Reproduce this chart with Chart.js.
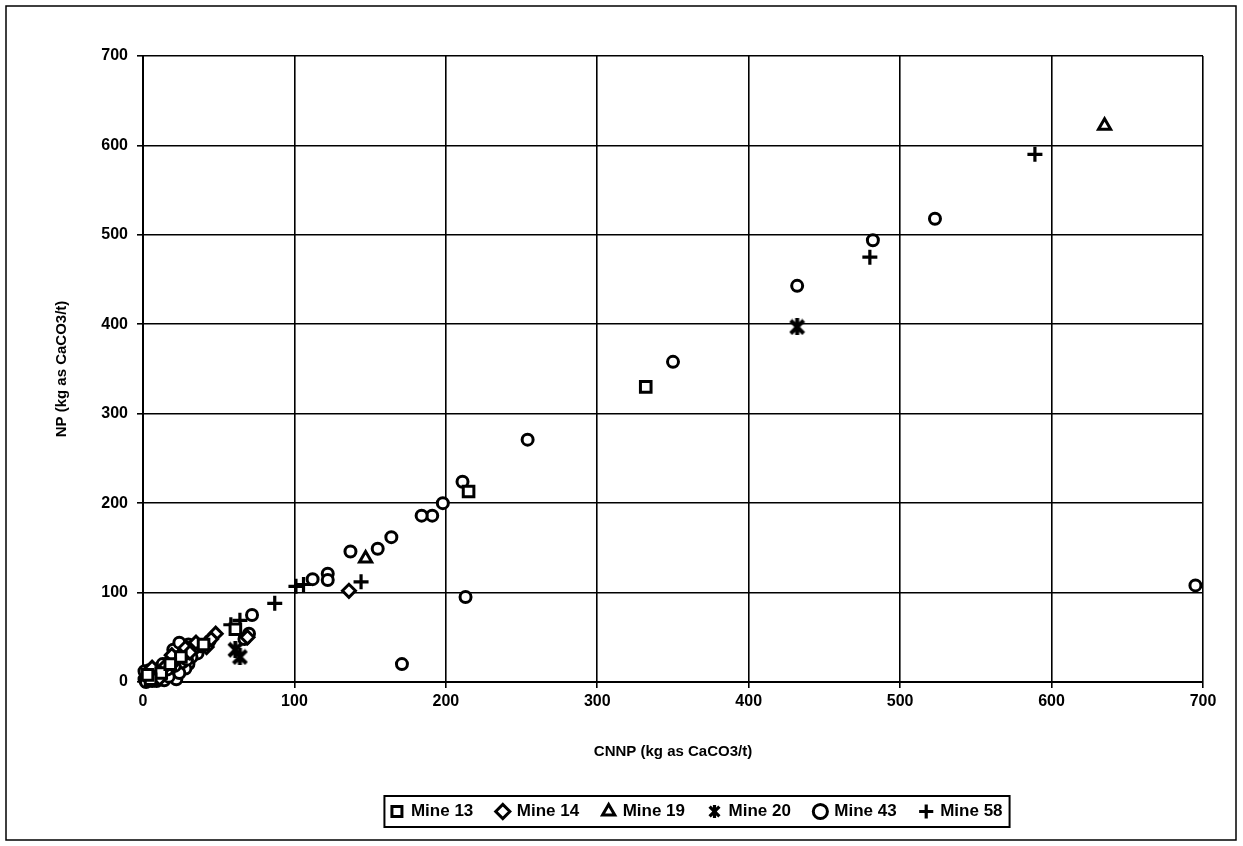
<!DOCTYPE html>
<html>
<head>
<meta charset="utf-8">
<script src="https://cdn.jsdelivr.net/npm/chart.js@4.4.1/dist/chart.umd.min.js"></script>
<style>
  html, body { margin: 0; padding: 0; background: #fff; }
  #wrap { width: 1243px; height: 846px; }
</style>
</head>
<body>
<div id="wrap"><canvas id="c" width="1243" height="846"></canvas></div>
<script>
// Axis ticks (kg as CaCO3/t)
const xTicks = [0, 100, 200, 300, 400, 500, 600, 700];
const yTicks = [0, 100, 200, 300, 400, 500, 600, 700];

// Series: [CNNP, NP] pairs per mine
const mine13 = [[332, 330], [215, 213], [61, 59], [40, 42], [25, 28], [12, 10], [5, 3], [18, 20], [3, 8]];
const mine14 = [[136, 102], [69, 50], [48, 54], [42, 39], [28, 38], [22, 25], [15, 18], [8, 12], [3, 5],
  [35, 44], [19, 30], [11, 4], [6, 16], [31, 33], [45, 48]];
const mine19 = [[635, 622], [147, 138], [28, 30], [10, 8], [17, 24]];
const mine20 = [[432, 397], [61, 36], [64, 28]];
const mine43 = [
  [695, 108], [523, 518], [482, 494], [432, 443], [350, 358], [254, 271],
  [211, 224], [213, 95], [171, 20], [198, 200], [191, 186], [184, 186],
  [164, 162], [155, 149], [137, 146], [122, 121], [122, 114], [112, 115],
  [72, 75], [70, 54], [67, 48], [30, 42], [27, 40], [25, 35], [22, 28],
  [20, 22], [18, 15], [22, 3], [15, 8], [10, 5], [8, 14], [5, 10], [3, 2],
  [2, 8], [6, 4], [12, 12], [33, 36], [36, 32], [30, 20], [28, 15],
  [1, 3], [4, 13], [9, 1], [14, 2], [17, 6], [24, 10], [26, 22], [32, 28],
  [38, 40], [44, 46], [13, 20], [7, 7], [20, 36], [24, 44], [1, 12],
  [2, 0], [6, 1], [11, 9], [16, 14], [21, 18], [26, 31], [29, 25], [34, 38]
];
const mine58 = [[589, 590], [480, 475], [144, 112], [101, 107], [106, 109], [87, 88], [58, 64], [64, 69], [38, 35], [16, 12]];

const toPts = arr => arr.map(([x, y]) => ({ x, y }));

// Asterisk marker: a heavy X crossed by a vertical stroke
function asteriskMarker(size, lw) {
  const cv = document.createElement('canvas');
  cv.width = size; cv.height = size;
  const g = cv.getContext('2d');
  g.strokeStyle = '#000';
  g.lineWidth = lw;
  g.lineCap = 'butt';
  const p = lw / 2, q = size - p;
  g.beginPath();
  g.moveTo(p, p); g.lineTo(q, q);
  g.moveTo(q, p); g.lineTo(p, q);
  g.moveTo(size / 2, 0); g.lineTo(size / 2, size);
  g.stroke();
  return cv;
}
const starImg = asteriskMarker(17, 4);
const starLegend = asteriskMarker(13, 3.2);

const base = { borderColor: '#000', backgroundColor: '#fff', clip: false };

// Frame around the whole figure and a box around the legend row
const framePlugin = {
  id: 'frame',
  beforeDraw(chart) {
    const ctx = chart.ctx;
    ctx.save();
    ctx.fillStyle = '#fff';
    ctx.fillRect(0, 0, chart.width, chart.height);
    ctx.restore();
  },
  afterUpdate(chart) {
    const lg = chart.legend;
    if (!lg) return;
    const desiredCenter = 697;
    const dx = desiredCenter - (lg.left + lg.right) / 2;
    lg.left += dx; lg.right += dx;
    (lg.legendHitBoxes || []).forEach(h => { h.left += dx; });
  },
  afterDraw(chart) {
    const ctx = chart.ctx;
    ctx.save();
    ctx.strokeStyle = '#000';
    ctx.lineWidth = 1.5;
    ctx.strokeRect(6, 6, 1230, 834);
    const hb = chart.legend && chart.legend.legendHitBoxes;
    if (hb && hb.length) {
      const l = Math.min(...hb.map(h => h.left)) - 7;
      const r = Math.max(...hb.map(h => h.left + h.width)) + 7;
      const t = Math.min(...hb.map(h => h.top)) - 7;
      const b = Math.max(...hb.map(h => h.top + h.height)) + 7;
      ctx.lineWidth = 2;
      ctx.strokeRect(l, t, r - l, b - t);
    }
    ctx.restore();
  }
};

Chart.defaults.font.family = '"Liberation Sans", Arial, sans-serif';
Chart.defaults.font.weight = 'bold';
Chart.defaults.color = '#000';

new Chart(document.getElementById('c'), {
  type: 'scatter',
  data: {
    datasets: [
      { ...base, label: 'Mine 13', data: toPts(mine13), pointStyle: 'rect', pointRadius: 7.5, borderWidth: 3 },
      { ...base, label: 'Mine 14', data: toPts(mine14), pointStyle: 'rectRot', pointRadius: 6.5, borderWidth: 3 },
      { ...base, label: 'Mine 19', data: toPts(mine19), pointStyle: 'triangle', pointRadius: 7, borderWidth: 3 },
      { ...base, label: 'Mine 20', data: toPts(mine20), pointStyle: starImg, pointRadius: 7, borderWidth: 3 },
      { ...base, label: 'Mine 43', data: toPts(mine43), pointStyle: 'circle', pointRadius: 5.5, borderWidth: 3 },
      { ...base, label: 'Mine 58', data: toPts(mine58), pointStyle: 'cross', pointRadius: 7.5, borderWidth: 3.2 }
    ]
  },
  options: {
    responsive: false,
    animation: false,
    events: [],
    layout: { padding: { left: 0, right: 40, top: 56, bottom: 16 } },
    plugins: {
      tooltip: { enabled: false },
      legend: {
        position: 'bottom',
        labels: {
          usePointStyle: true,
          boxWidth: 11,
          boxHeight: 10,
          padding: 24,
          font: { size: 17, weight: 'bold' },
          color: '#000',
          generateLabels(chart) {
            const items = Chart.defaults.plugins.legend.labels.generateLabels(chart);
            items.forEach(it => { if (it.text === 'Mine 20') it.pointStyle = starLegend; });
            return items;
          }
        }
      }
    },
    scales: {
      x: {
        type: 'linear',
        min: 0, max: 700,
        afterBuildTicks: s => { s.ticks = xTicks.map(v => ({ value: v })); },
        afterFit: s => { s.height = 97; },
        grid: { color: '#000', lineWidth: 1.6, drawTicks: true, tickLength: 6, tickColor: '#000' },
        border: { color: '#000', width: 2 },
        ticks: { font: { size: 16, weight: 'bold' }, padding: 4, maxRotation: 0 },
        title: { display: true, text: 'CNNP (kg as CaCO3/t)', font: { size: 15, weight: 'bold' }, padding: { bottom: 18, top: 0 } }
      },
      y: {
        type: 'linear',
        min: 0, max: 700,
        afterBuildTicks: s => { s.ticks = yTicks.map(v => ({ value: v })); },
        afterFit: s => { s.width = 143; },
        grid: { color: '#000', lineWidth: 1.6, drawTicks: true, tickLength: 6, tickColor: '#000' },
        border: { color: '#000', width: 2 },
        ticks: { font: { size: 16, weight: 'bold' }, padding: 9 },
        title: { display: true, text: 'NP (kg as CaCO3/t)', font: { size: 15, weight: 'bold' }, padding: { top: 53, bottom: 0 } }
      }
    }
  },
  plugins: [framePlugin]
});
</script>
</body>
</html>
